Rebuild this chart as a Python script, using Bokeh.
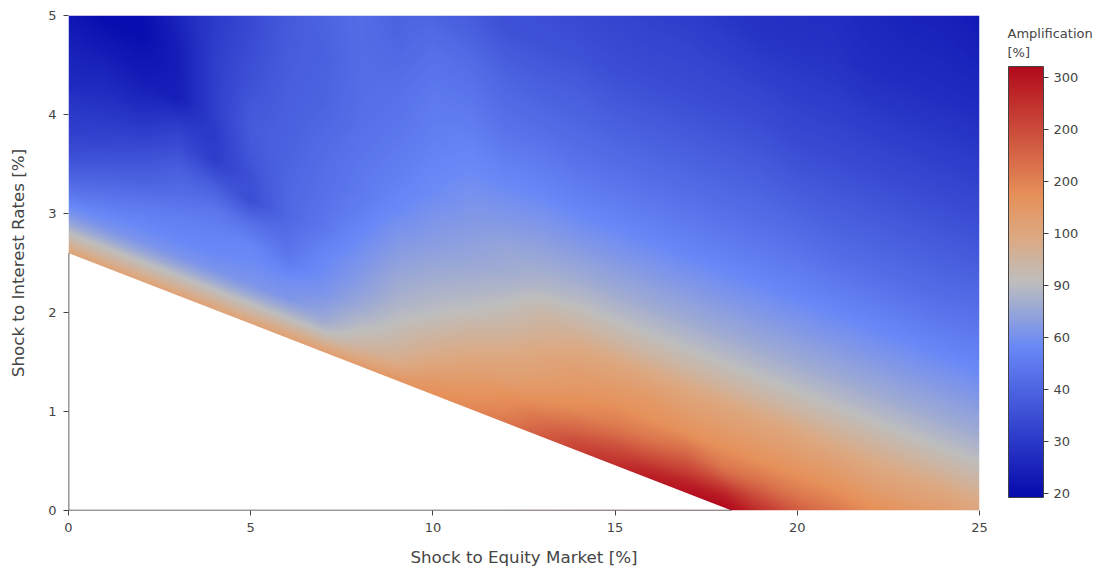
import numpy as np
from bokeh.embed import file_html
from bokeh.layouts import row
from bokeh.models import Arrow, ColorBar, FixedTicker, Label, LogColorMapper, Range1d
from bokeh.plotting import figure
from bokeh.resources import INLINE

# Shock to equity market [%] of each column below
shock_equity = list(range(26))
# Shock to interest rates [%] above the edge of the empty region, for each entry of a column
height_above_edge = [0, 0.1, 0.2, 0.3, 0.4, 0.6, 0.8, 1, 1.25, 1.5, 1.75, 2, 2.5, 3, 3.5, 4, 5, 6]

# Amplification [%]
amp_x00 = [128,104,87,71,61,48,40,34,30,28,25,24,21,21,21,21,21,21]
amp_x01 = [128,104,87,71,61,52,44,38,32,29,26,24,20,20,20,20,20,20]
amp_x02 = [128,104,87,71,61,54,48,41,35,30,26,23,20,20,20,20,20,20]
amp_x03 = [128,104,87,71,61,54,51,45,40,34,29,23,23,25,25,25,25,25]
amp_x04 = [128,104,87,71,61,55,52,48,39,30,29,30,30,29,29,29,29,29]
amp_x05 = [128,104,87,71,62,57,54,46,34,35,37,38,35,33,33,33,33,33]
amp_x06 = [132,107,87,73,62,57,49,45,42,42,41,40,39,38,37,37,37,37]
amp_x07 = [136,107,87,75,69,61,57,54,48,46,45,44,41,40,41,41,41,41]
amp_x08 = [140,117,101,93,85,73,66,62,57,52,49,48,45,44,44,44,44,44]
amp_x09 = [149,128,112,104,98,87,78,73,66,61,55,52,48,45,41,40,40,40]
amp_x10 = [158,149,136,125,114,101,87,80,73,66,62,57,52,49,45,39,39,39]
amp_x11 = [168,158,149,140,132,114,101,87,78,71,66,62,55,49,44,38,38,38]
amp_x12 = [190,173,163,154,140,125,110,98,85,75,71,64,54,46,41,35,33,33]
amp_x13 = [228,208,190,168,154,136,125,110,98,82,73,66,54,46,40,35,32,32]
amp_x14 = [273,249,214,190,168,149,136,121,101,85,74,66,53,45,40,35,30,30]
amp_x15 = [309,273,242,208,184,158,140,125,101,85,74,66,53,45,39,34,30,30]
amp_x16 = [349,309,257,221,190,158,145,125,101,85,74,66,53,45,39,34,29,29]
amp_x17 = [370,338,282,242,208,158,140,125,101,85,74,66,53,45,39,34,29,29]
amp_x18 = [390,349,290,228,190,158,140,125,101,85,74,66,53,45,39,34,28,27]
amp_x19 = [370,299,265,228,196,158,140,125,101,85,74,66,53,45,39,34,27,26]
amp_x20 = [338,290,242,214,190,160,140,125,101,85,74,66,53,45,38,33,27,25]
amp_x21 = [290,257,228,208,190,160,140,122,101,85,74,66,53,44,38,33,27,25]
amp_x22 = [257,235,214,196,179,156,136,120,101,85,74,66,53,44,38,33,26,24]
amp_x23 = [228,214,202,190,179,158,136,121,101,85,74,66,53,44,38,33,26,23]
amp_x24 = [214,202,190,179,168,149,140,123,101,85,74,66,53,44,38,33,26,23]
amp_x25 = [202,190,179,168,158,145,136,121,101,85,74,66,53,45,38,33,26,22]
amp_columns = [amp_x00, amp_x01, amp_x02, amp_x03, amp_x04, amp_x05, amp_x06, amp_x07, amp_x08,
               amp_x09, amp_x10, amp_x11, amp_x12, amp_x13, amp_x14, amp_x15, amp_x16, amp_x17,
               amp_x18, amp_x19, amp_x20, amp_x21, amp_x22, amp_x23, amp_x24, amp_x25]

# Edge of the empty region (no solution below it)
edge_equity = [0, 18.2]
edge_rates = [2.6, 0]

# Colour bar: range, tick positions and the rounded labels the chart shows
amp_low, amp_high = 19.45, 390
tick_values = [20, 28.7, 41.2, 59.2, 85, 122, 175, 251, 361]
tick_labels = ["20", "30", "40", "60", "90", "100", "200", "200", "300"]
color_stops = [0, 0.35, 0.5, 0.6, 0.7, 1]
color_rgb = [(5, 10, 172), (106, 137, 247), (190, 190, 190), (220, 170, 132), (230, 145, 90), (178, 10, 28)]

FONT = "DejaVu Sans"
INK = "#444444"

pos = np.linspace(0, 1, 512)
palette = ["#%02x%02x%02x" % tuple(int(round(np.interp(t, color_stops, [c[i] for c in color_rgb]))) for i in range(3))
           for t in pos]

# smooth the table for display, on the log scale of the colour axis and along the edge's direction
W, H = 911, 495
fine_x = np.linspace(0, 25, W)
fine_y = np.linspace(0, 5, H)
table = np.log10(np.array(amp_columns, dtype=float))
edge_slope = (edge_rates[1] - edge_rates[0]) / (edge_equity[1] - edge_equity[0])
by_x = np.array([np.interp(fine_x, shock_equity, table[:, k]) for k in range(len(height_above_edge))])
smooth = np.empty((H, W))
for j in range(W):
    above = fine_y - (edge_rates[0] + edge_slope * fine_x[j])
    smooth[:, j] = np.interp(above, height_above_edge, by_x[:, j])
image = (10 ** smooth).astype(np.float32)

mapper = LogColorMapper(palette=palette, low=amp_low, high=amp_high)

p = figure(width=995, height=570, output_backend="svg", toolbar_location=None,
           x_range=Range1d(0, 25), y_range=Range1d(0, 5),
           min_border_left=68, min_border_right=16, min_border_top=15, min_border_bottom=60,
           x_axis_label="Shock to Equity Market [%]", y_axis_label="Shock to Interest Rates [%]")
p.outline_line_color = None
p.grid.visible = False

p.image(image=[image], x=0, y=0, dw=25, dh=5, color_mapper=mapper)
p.patch(x=edge_equity + [0], y=edge_rates + [0], fill_color="white", line_color=None)

for axis in (p.xaxis[0], p.yaxis[0]):
    axis.axis_line_color = None
    axis.major_tick_line_color = INK
    axis.major_tick_in = 0
    axis.major_tick_out = 5
    axis.minor_tick_line_color = None
    axis.major_label_text_color = INK
    axis.major_label_text_font = FONT
    axis.major_label_text_font_size = "13px"
    axis.major_label_standoff = 7
    axis.axis_label_text_color = INK
    axis.axis_label_text_font = FONT
    axis.axis_label_text_font_size = "16.7px"
    axis.axis_label_text_font_style = "normal"
p.xaxis[0].axis_label_standoff = 12
p.yaxis[0].axis_label_standoff = 17
p.xaxis[0].ticker = FixedTicker(ticks=[0, 5, 10, 15, 20, 25])
p.yaxis[0].ticker = FixedTicker(ticks=[0, 1, 2, 3, 4, 5])

# axis lines show only along the empty region
p.add_layout(Arrow(end=None, x_start=0, y_start=0, x_end=0, y_end=edge_rates[0],
                   line_color=INK, line_width=1.6))
p.add_layout(Arrow(end=None, x_start=0, y_start=0, x_end=edge_equity[1], y_end=0,
                   line_color=INK, line_width=1.6))

# colour bar and its title, in a frame of their own beside the chart
side = figure(width=105, height=570, output_backend="svg", toolbar_location=None,
              x_range=Range1d(0, 1), y_range=Range1d(0, 1),
              x_axis_location=None, y_axis_location=None,
              min_border_left=0, min_border_right=0, min_border_top=0, min_border_bottom=0)
side.outline_line_color = None
side.grid.visible = False

bar = ColorBar(color_mapper=mapper, width=35, height=431, location=(13, 13),
               ticker=FixedTicker(ticks=tick_values),
               major_label_overrides=dict(zip(tick_values, tick_labels)),
               major_tick_in=0, major_tick_out=5, major_tick_line_color=INK,
               minor_tick_line_color=None, bar_line_color=INK, bar_line_width=1,
               border_line_color=None, padding=0, margin=0,
               major_label_text_color=INK, major_label_text_font=FONT,
               major_label_text_font_size="13px", background_fill_color=None)
side.add_layout(bar, "center")

side.add_layout(Label(x=12, y=477, x_units="screen", y_units="screen", text="Amplification",
                      text_color=INK, text_font=FONT, text_font_size="13px", text_baseline="middle"))
side.add_layout(Label(x=12, y=458, x_units="screen", y_units="screen", text="[%]",
                      text_color=INK, text_font=FONT, text_font_size="13px", text_baseline="middle"))

open("out.html", "w").write(file_html(row(p, side), INLINE))
